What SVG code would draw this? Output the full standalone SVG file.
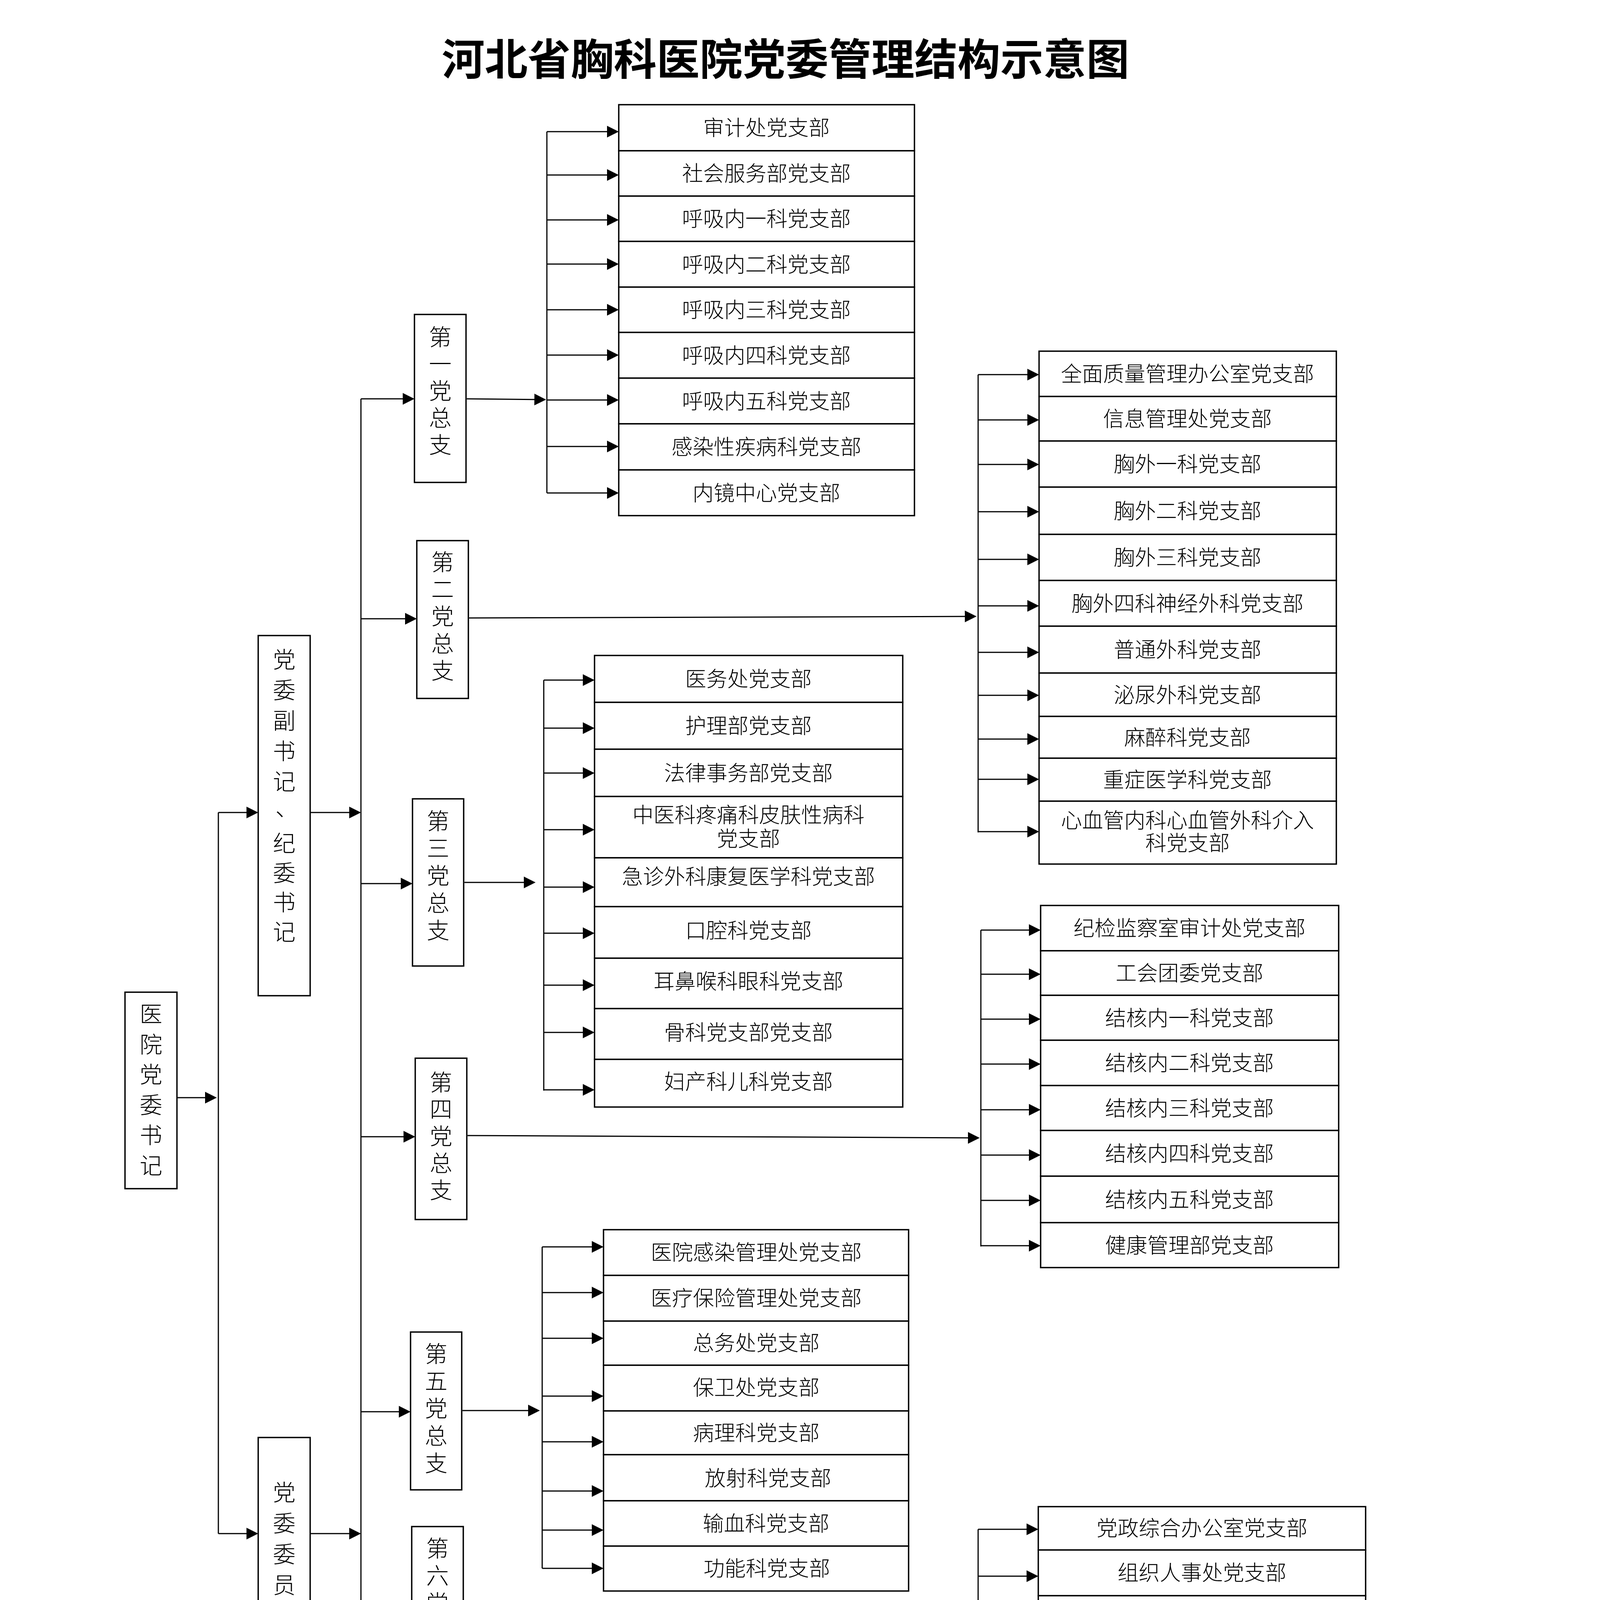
<svg xmlns="http://www.w3.org/2000/svg" width="4208" height="5955" viewBox="0 0 4208 5955">
<style>
.bg{fill:#fff}
.box{fill:#fff;stroke:#000;stroke-width:3.5}
.t{font-family:"Noto Sans CJK SC","Noto Sans CJK JP",sans-serif;font-size:54px;font-weight:300;text-anchor:middle;fill:#000}
.v{font-family:"Noto Sans CJK SC","Noto Sans CJK JP",sans-serif;font-size:58px;font-weight:300;fill:#000;writing-mode:vertical-rl;text-orientation:upright;text-anchor:start}
.title{font-family:"Noto Sans CJK SC","Noto Sans CJK JP",sans-serif;font-size:110px;font-weight:700;text-anchor:middle;fill:#000}
.c{stroke:#000;stroke-width:3;fill:none}
.a{marker-end:url(#ah)}
</style>
<defs>
<marker id="ah" markerUnits="userSpaceOnUse" markerWidth="30" markerHeight="30" refX="20" refY="15" orient="auto" overflow="visible">
<path d="M0,0 L30,15 L0,30 Z" fill="#000"/>
</marker>
</defs>
<rect class="bg" x="0" y="0" width="4208" height="5955"/>
<text class="title" x="2011" y="192">河北省胸科医院党委管理结构示意图</text>

<g id="connectors">
<line class="c a" x1="453" y1="2810" x2="545" y2="2810"/>
<line class="c" x1="559" y1="2080" x2="559" y2="3926"/>
<line class="c a" x1="559" y1="2080" x2="651" y2="2080"/>
<line class="c a" x1="559" y1="3926" x2="651" y2="3926"/>
<line class="c a" x1="794" y1="2080" x2="914" y2="2080"/>
<line class="c a" x1="794" y1="3926" x2="914" y2="3926"/>
<line class="c" x1="924" y1="1021" x2="924" y2="4932"/>
<line class="c" x1="927" y1="4932" x2="927" y2="5769"/>
<line class="c a" x1="924" y1="1021" x2="1051" y2="1021"/>
<line class="c a" x1="924" y1="1584" x2="1057" y2="1584"/>
<line class="c a" x1="924" y1="2262" x2="1046" y2="2262"/>
<line class="c a" x1="924" y1="2910" x2="1053" y2="2910"/>
<line class="c a" x1="924" y1="3614" x2="1041" y2="3614"/>
<line class="c a" x1="924" y1="4116" x2="1044" y2="4116"/>
<line class="c a" x1="924" y1="4835" x2="1045" y2="4835"/>
<line class="c a" x1="927" y1="5769" x2="1069" y2="5769"/>
<line class="c a" x1="1195" y1="1021" x2="1388" y2="1023"/>
<line class="c" x1="1400" y1="337" x2="1400" y2="1262"/>
<line class="c a" x1="1400" y1="337" x2="1574" y2="337"/>
<line class="c a" x1="1400" y1="448" x2="1574" y2="448"/>
<line class="c a" x1="1400" y1="563" x2="1574" y2="563"/>
<line class="c a" x1="1400" y1="676" x2="1574" y2="676"/>
<line class="c a" x1="1400" y1="793" x2="1574" y2="793"/>
<line class="c a" x1="1400" y1="909" x2="1574" y2="909"/>
<line class="c a" x1="1400" y1="1024" x2="1574" y2="1024"/>
<line class="c a" x1="1400" y1="1143" x2="1574" y2="1143"/>
<line class="c a" x1="1400" y1="1262" x2="1574" y2="1262"/>
<line class="c a" x1="1201" y1="1582" x2="2490" y2="1578"/>
<line class="c" x1="2504" y1="959" x2="2504" y2="2131"/>
<line class="c a" x1="2504" y1="959" x2="2650" y2="959"/>
<line class="c a" x1="2504" y1="1075" x2="2650" y2="1075"/>
<line class="c a" x1="2504" y1="1189" x2="2650" y2="1189"/>
<line class="c a" x1="2504" y1="1310" x2="2650" y2="1310"/>
<line class="c a" x1="2504" y1="1432" x2="2650" y2="1432"/>
<line class="c a" x1="2504" y1="1551" x2="2650" y2="1551"/>
<line class="c a" x1="2504" y1="1670" x2="2650" y2="1670"/>
<line class="c a" x1="2504" y1="1780" x2="2650" y2="1780"/>
<line class="c a" x1="2504" y1="1892" x2="2650" y2="1892"/>
<line class="c a" x1="2504" y1="1995" x2="2650" y2="1995"/>
<line class="c a" x1="2504" y1="2129" x2="2650" y2="2129"/>
<line class="c a" x1="1189" y1="2259" x2="1361" y2="2259"/>
<line class="c" x1="1392" y1="1741" x2="1392" y2="2792"/>
<line class="c a" x1="1392" y1="1741" x2="1512" y2="1741"/>
<line class="c a" x1="1392" y1="1864" x2="1512" y2="1864"/>
<line class="c a" x1="1392" y1="1979" x2="1512" y2="1979"/>
<line class="c a" x1="1392" y1="2124" x2="1512" y2="2124"/>
<line class="c a" x1="1392" y1="2271" x2="1512" y2="2271"/>
<line class="c a" x1="1392" y1="2389" x2="1512" y2="2389"/>
<line class="c a" x1="1392" y1="2522" x2="1512" y2="2522"/>
<line class="c a" x1="1392" y1="2643" x2="1512" y2="2643"/>
<line class="c a" x1="1392" y1="2790" x2="1512" y2="2790"/>
<line class="c a" x1="1197" y1="2907" x2="2498" y2="2913"/>
<line class="c" x1="2511" y1="2381" x2="2511" y2="3191"/>
<line class="c a" x1="2511" y1="2381" x2="2654" y2="2381"/>
<line class="c a" x1="2511" y1="2494" x2="2654" y2="2494"/>
<line class="c a" x1="2511" y1="2609" x2="2654" y2="2609"/>
<line class="c a" x1="2511" y1="2724" x2="2654" y2="2724"/>
<line class="c a" x1="2511" y1="2841" x2="2654" y2="2841"/>
<line class="c a" x1="2511" y1="2957" x2="2654" y2="2957"/>
<line class="c a" x1="2511" y1="3073" x2="2654" y2="3073"/>
<line class="c a" x1="2511" y1="3189" x2="2654" y2="3189"/>
<line class="c a" x1="1184" y1="3611" x2="1372" y2="3611"/>
<line class="c" x1="1388" y1="3192" x2="1388" y2="4015"/>
<line class="c a" x1="1388" y1="3192" x2="1535" y2="3192"/>
<line class="c a" x1="1388" y1="3309" x2="1535" y2="3309"/>
<line class="c a" x1="1388" y1="3426" x2="1535" y2="3426"/>
<line class="c a" x1="1388" y1="3574" x2="1535" y2="3574"/>
<line class="c a" x1="1388" y1="3691" x2="1535" y2="3691"/>
<line class="c a" x1="1388" y1="3817" x2="1535" y2="3817"/>
<line class="c a" x1="1388" y1="3917" x2="1535" y2="3917"/>
<line class="c a" x1="1388" y1="4015" x2="1535" y2="4015"/>
<line class="c a" x1="1188" y1="4117" x2="2492" y2="4120"/>
<line class="c" x1="2504" y1="3915" x2="2504" y2="4512"/>
<line class="c a" x1="2504" y1="3915" x2="2648" y2="3915"/>
<line class="c a" x1="2504" y1="4035" x2="2648" y2="4035"/>
<line class="c a" x1="2504" y1="4149" x2="2648" y2="4149"/>
<line class="c a" x1="2504" y1="4266" x2="2648" y2="4266"/>
<line class="c a" x1="2504" y1="4381" x2="2648" y2="4381"/>
<line class="c a" x1="2504" y1="4512" x2="2648" y2="4512"/>
<line class="c a" x1="1187" y1="4833" x2="1368" y2="4833"/>
<line class="c" x1="1383" y1="4218" x2="1383" y2="5504"/>
<line class="c a" x1="1383" y1="4221" x2="1496" y2="4221"/>
<line class="c a" x1="1383" y1="4335" x2="1496" y2="4335"/>
<line class="c a" x1="1383" y1="4449" x2="1496" y2="4449"/>
<line class="c a" x1="1383" y1="4571" x2="1496" y2="4571"/>
<line class="c a" x1="1383" y1="4690" x2="1496" y2="4690"/>
<line class="c a" x1="1383" y1="4808" x2="1496" y2="4808"/>
<line class="c a" x1="1383" y1="4925" x2="1496" y2="4925"/>
<line class="c a" x1="1383" y1="5037" x2="1496" y2="5037"/>
<line class="c a" x1="1383" y1="5152" x2="1496" y2="5152"/>
<line class="c a" x1="1383" y1="5268" x2="1496" y2="5268"/>
<line class="c a" x1="1383" y1="5385" x2="1496" y2="5385"/>
<line class="c a" x1="1383" y1="5502" x2="1496" y2="5502"/>
<line class="c a" x1="1206" y1="5769" x2="1364" y2="5769"/>
<line class="c" x1="1374" y1="5630" x2="1374" y2="5907"/>
<line class="c a" x1="1374" y1="5630" x2="1503" y2="5630"/>
<line class="c a" x1="1374" y1="5772" x2="1503" y2="5772"/>
<line class="c a" x1="1374" y1="5907" x2="1503" y2="5907"/>
</g>

<g id="n-shuji">
<rect class="box" x="320" y="2540" width="133" height="503"/>
<text class="v" x="386.5" y="2566" style="letter-spacing:19.6px">医院党委书记</text>
</g>
<g id="n-fushuji">
<rect class="box" x="661" y="1627" width="133" height="922"/>
<text class="v" x="727.5" y="1659" style="letter-spacing:20px">党委副书记</text>
<text class="t" x="734" y="2089" style="font-size:58px">、</text>
<text class="v" x="727.5" y="2129" style="letter-spacing:17.7px">纪委书记</text>
</g>
<g id="n-weiyuan">
<rect class="box" x="661" y="3680" width="133" height="505"/>
<text class="v" x="727.5" y="3791" style="letter-spacing:21px">党委委员</text>
</g>

<g id="n-z1"><rect class="box" x="1061" y="805" width="132" height="430"/><text class="v" x="1127" y="833" style="letter-spacing:11px">第一党总支</text></g>
<g id="n-z2"><rect class="box" x="1067" y="1384" width="132" height="404"/><text class="v" x="1133" y="1409" style="letter-spacing:11.5px">第二党总支</text></g>
<g id="n-z3"><rect class="box" x="1056" y="2045" width="131" height="428"/><text class="v" x="1121.5" y="2072" style="letter-spacing:12px">第三党总支</text></g>
<g id="n-z4"><rect class="box" x="1063" y="2709" width="132" height="413"/><text class="v" x="1129" y="2741" style="letter-spacing:11px">第四党总支</text></g>
<g id="n-z5"><rect class="box" x="1051" y="3410" width="131" height="404"/><text class="v" x="1116.5" y="3436" style="letter-spacing:12px">第五党总支</text></g>
<g id="n-z6"><rect class="box" x="1054" y="3908" width="132" height="422"/><text class="v" x="1120" y="3934" style="letter-spacing:12px">第六党总支</text></g>
<g id="n-z7"><rect class="box" x="1055" y="4612" width="130" height="443"/><text class="v" x="1120" y="4639" style="letter-spacing:12px">第七党总支</text></g>
<g id="n-z8"><rect class="box" x="1079" y="5555" width="125" height="395"/><text class="v" x="1141.5" y="5583" style="letter-spacing:11px">第八党总支</text></g>

<g id="a1"><rect class="box" x="1584" y="268" width="757" height="118"/><text class="t" x="1962" y="347">审计处党支部</text></g>
<g id="a2"><rect class="box" x="1584" y="386" width="757" height="116"/><text class="t" x="1962" y="464">社会服务部党支部</text></g>
<g id="a3"><rect class="box" x="1584" y="502" width="757" height="116"/><text class="t" x="1962" y="580">呼吸内一科党支部</text></g>
<g id="a4"><rect class="box" x="1584" y="618" width="757" height="117"/><text class="t" x="1962" y="697">呼吸内二科党支部</text></g>
<g id="a5"><rect class="box" x="1584" y="735" width="757" height="116"/><text class="t" x="1962" y="813">呼吸内三科党支部</text></g>
<g id="a6"><rect class="box" x="1584" y="851" width="757" height="117"/><text class="t" x="1962" y="930">呼吸内四科党支部</text></g>
<g id="a7"><rect class="box" x="1584" y="968" width="757" height="117"/><text class="t" x="1962" y="1047">呼吸内五科党支部</text></g>
<g id="a8"><rect class="box" x="1584" y="1085" width="757" height="118"/><text class="t" x="1962" y="1164">感染性疾病科党支部</text></g>
<g id="a9"><rect class="box" x="1584" y="1203" width="757" height="117"/><text class="t" x="1962" y="1282">内镜中心党支部</text></g>

<g id="b1"><rect class="box" x="2660" y="899" width="761" height="116"/><text class="t" x="3040" y="977">全面质量管理办公室党支部</text></g>
<g id="b2"><rect class="box" x="2660" y="1015" width="761" height="114"/><text class="t" x="3040" y="1092">信息管理处党支部</text></g>
<g id="b3"><rect class="box" x="2660" y="1129" width="761" height="118"/><text class="t" x="3040" y="1208">胸外一科党支部</text></g>
<g id="b4"><rect class="box" x="2660" y="1247" width="761" height="121"/><text class="t" x="3040" y="1328">胸外二科党支部</text></g>
<g id="b5"><rect class="box" x="2660" y="1368" width="761" height="118"/><text class="t" x="3040" y="1447">胸外三科党支部</text></g>
<g id="b6"><rect class="box" x="2660" y="1486" width="761" height="117"/><text class="t" x="3040" y="1565">胸外四科神经外科党支部</text></g>
<g id="b7"><rect class="box" x="2660" y="1603" width="761" height="120"/><text class="t" x="3040" y="1683">普通外科党支部</text></g>
<g id="b8"><rect class="box" x="2660" y="1723" width="761" height="111"/><text class="t" x="3040" y="1799">泌尿外科党支部</text></g>
<g id="b9"><rect class="box" x="2660" y="1834" width="761" height="107"/><text class="t" x="3040" y="1908">麻醉科党支部</text></g>
<g id="b10"><rect class="box" x="2660" y="1941" width="761" height="110"/><text class="t" x="3040" y="2016">重症医学科党支部</text></g>
<g id="b11"><rect class="box" x="2660" y="2051" width="761" height="161"/><text class="t" x="3040" y="2120">心血管内科心血管外科介入</text><text class="t" x="3040" y="2178">科党支部</text></g>

<g id="c1"><rect class="box" x="1522" y="1678" width="789" height="120"/><text class="t" x="1916" y="1758">医务处党支部</text></g>
<g id="c2"><rect class="box" x="1522" y="1798" width="789" height="120"/><text class="t" x="1916" y="1878">护理部党支部</text></g>
<g id="c3"><rect class="box" x="1522" y="1918" width="789" height="121"/><text class="t" x="1916" y="1999">法律事务部党支部</text></g>
<g id="c4"><rect class="box" x="1522" y="2039" width="789" height="157"/><text class="t" x="1916" y="2106">中医科疼痛科皮肤性病科</text><text class="t" x="1916" y="2167">党支部</text></g>
<g id="c5"><rect class="box" x="1522" y="2196" width="789" height="125"/><text class="t" x="1916" y="2264">急诊外科康复医学科党支部</text></g>
<g id="c6"><rect class="box" x="1522" y="2321" width="789" height="132"/><text class="t" x="1916" y="2402">口腔科党支部</text></g>
<g id="c7"><rect class="box" x="1522" y="2453" width="789" height="129"/><text class="t" x="1916" y="2532">耳鼻喉科眼科党支部</text></g>
<g id="c8"><rect class="box" x="1522" y="2582" width="789" height="130"/><text class="t" x="1916" y="2663">骨科党支部党支部</text></g>
<g id="c9"><rect class="box" x="1522" y="2712" width="789" height="122"/><text class="t" x="1916" y="2789">妇产科儿科党支部</text></g>

<g id="d1"><rect class="box" x="2664" y="2318" width="763" height="116"/><text class="t" x="3045" y="2396">纪检监察室审计处党支部</text></g>
<g id="d2"><rect class="box" x="2664" y="2434" width="763" height="114"/><text class="t" x="3045" y="2511">工会团委党支部</text></g>
<g id="d3"><rect class="box" x="2664" y="2548" width="763" height="115"/><text class="t" x="3045" y="2626">结核内一科党支部</text></g>
<g id="d4"><rect class="box" x="2664" y="2663" width="763" height="116"/><text class="t" x="3045" y="2741">结核内二科党支部</text></g>
<g id="d5"><rect class="box" x="2664" y="2779" width="763" height="115"/><text class="t" x="3045" y="2857">结核内三科党支部</text></g>
<g id="d6"><rect class="box" x="2664" y="2894" width="763" height="117"/><text class="t" x="3045" y="2973">结核内四科党支部</text></g>
<g id="d7"><rect class="box" x="2664" y="3011" width="763" height="119"/><text class="t" x="3045" y="3091">结核内五科党支部</text></g>
<g id="d8"><rect class="box" x="2664" y="3130" width="763" height="115"/><text class="t" x="3045" y="3208">健康管理部党支部</text></g>

<g id="e1"><rect class="box" x="1545" y="3148" width="781" height="117"/><text class="t" x="1936" y="3226">医院感染管理处党支部</text></g>
<g id="e2"><rect class="box" x="1545" y="3265" width="781" height="117"/><text class="t" x="1936" y="3343">医疗保险管理处党支部</text></g>
<g id="e3"><rect class="box" x="1545" y="3382" width="781" height="113"/><text class="t" x="1936" y="3458">总务处党支部</text></g>
<g id="e4"><rect class="box" x="1545" y="3495" width="781" height="117"/><text class="t" x="1936" y="3572">保卫处党支部</text></g>
<g id="e5"><rect class="box" x="1545" y="3612" width="781" height="112"/><text class="t" x="1936" y="3688">病理科党支部</text></g>
<g id="e6"><rect class="box" x="1545" y="3724" width="781" height="118"/><text class="t" x="1966" y="3804">放射科党支部</text></g>
<g id="e7"><rect class="box" x="1545" y="3842" width="781" height="116"/><text class="t" x="1961" y="3920">输血科党支部</text></g>
<g id="e8"><rect class="box" x="1545" y="3958" width="781" height="115"/><text class="t" x="1963" y="4035">功能科党支部</text></g>

<g id="f1"><rect class="box" x="2658" y="3857" width="838" height="111"/><text class="t" x="3077" y="3932">党政综合办公室党支部</text></g>
<g id="f2"><rect class="box" x="2658" y="3968" width="838" height="117"/><text class="t" x="3077" y="4046">组织人事处党支部</text></g>
<g id="f3"><rect class="box" x="2658" y="4085" width="838" height="119"/><text class="t" x="3077" y="4164">宣传统战处党支部</text></g>
<g id="f4"><rect class="box" x="2658" y="4204" width="838" height="119"/><text class="t" x="3077" y="4283">财务处党支部</text></g>
<g id="f5"><rect class="box" x="2658" y="4323" width="838" height="108"/><text class="t" x="3077" y="4400">经济运营办公室党支部</text></g>
<g id="f6"><rect class="box" x="2658" y="4431" width="838" height="163"/><text class="t" x="3077" y="4500">检验科感染性疾病实验诊断中</text><text class="t" x="3077" y="4560">心党支部</text></g>

<g id="g1"><rect class="box" x="1506" y="4152" width="794" height="118"/><text class="t" x="1903" y="4231">门诊部全科医学科党支部</text></g>
<g id="g2"><rect class="box" x="1506" y="4270" width="794" height="117"/><text class="t" x="1903" y="4349">科教处资产管理处党支部</text></g>
<g id="g3"><rect class="box" x="1506" y="4387" width="794" height="123"/><text class="t" x="1903" y="4468">医学装备处党支部</text></g>
<g id="g4"><rect class="box" x="1506" y="4510" width="794" height="118"/><text class="t" x="1903" y="4589">药学部党支部</text></g>
<g id="g5"><rect class="box" x="1506" y="4628" width="794" height="116"/><text class="t" x="1903" y="4706">临床药理试验部党支部</text></g>
<g id="g6"><rect class="box" x="1506" y="4744" width="794" height="117"/><text class="t" x="1903" y="4823">肿瘤一科党支部</text></g>
<g id="g7"><rect class="box" x="1506" y="4861" width="794" height="116"/><text class="t" x="1903" y="4939">肿瘤二科党支部</text></g>
<g id="g8"><rect class="box" x="1506" y="4977" width="794" height="116"/><text class="t" x="1903" y="5055">肿瘤三科党支部</text></g>
<g id="g9"><rect class="box" x="1506" y="5093" width="794" height="116"/><text class="t" x="1903" y="5171">肾内科党支部</text></g>
<g id="g10"><rect class="box" x="1506" y="5209" width="794" height="115"/><text class="t" x="1903" y="5287">神经内科内分泌科党支部</text></g>
<g id="g11"><rect class="box" x="1506" y="5324" width="794" height="118"/><text class="t" x="1903" y="5403">消化内科党支部</text></g>
<g id="g12"><rect class="box" x="1506" y="5442" width="794" height="115"/><text class="t" x="1903" y="5520">急诊医学科党支部</text></g>

<g id="h1"><rect class="box" x="1513" y="5600" width="782" height="117"/><text class="t" x="1904" y="5680">老干部第一党支部</text></g>
<g id="h2"><rect class="box" x="1513" y="5717" width="782" height="117"/><text class="t" x="1904" y="5797">老干部第二党支部</text></g>
<g id="h3"><rect class="box" x="1513" y="5834" width="782" height="116"/><text class="t" x="1904" y="5913">老干部第三党支部</text></g>
</svg>
